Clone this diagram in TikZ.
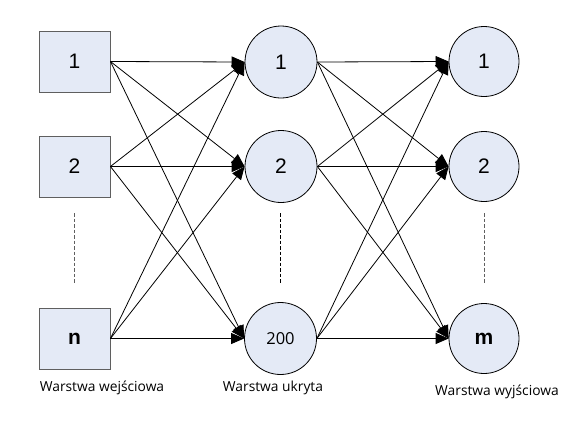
\documentclass[tikz,border=0pt]{standalone}
\usepackage{fontspec}
\setmainfont{Open Sans}
\newfontfamily\arialfont{Liberation Sans}
\usetikzlibrary{arrows.meta}
\definecolor{cellfill}{RGB}{228,234,246}
\definecolor{boxline}{RGB}{95,95,95}
\tikzset{
  inbox/.style={draw=boxline, fill=cellfill, line width=0.9pt,
    minimum width=71pt, minimum height=61pt, inner sep=0pt,
    font=\arialfont\fontsize{21}{24}\selectfont},
  neuron/.style={circle, draw, fill=cellfill, line width=0.8pt,
    minimum size=72pt, inner sep=0pt,
    font=\arialfont\fontsize{21}{24}\selectfont},
  layername/.style={font=\fontsize{13.8}{16}\selectfont},
  gap/.style={dash pattern=on 3.5pt off 2pt, line width=0.7pt},
}
\begin{document}
\begin{tikzpicture}[x=1pt,y=-1pt]
      \useasboundingbox (0,0) rectangle (567,424);
      \draw
        (74.5,61.5) node[inbox] (i1){1}
        (74.5,166.5) node[inbox] (i2){2}
        (74.5,338.5) node[inbox] (in){\bfseries n}
        (281,62) node[neuron] (h1){1}
        (281,166.5) node[neuron] (h2){2}
        (280.5,338.5) node[neuron, font=\fontsize{16.5}{18}\selectfont] (h200){200}
        (484,61.5) node[neuron, minimum size=70pt] (o1){1}
        (484,166.5) node[neuron, minimum size=70pt] (o2){2}
        (484,338.5) node[neuron, minimum size=70pt] (om){\bfseries m};
      \draw[gap, boxline] (74.5,213) -- (74.5,284);
      \draw[gap] (280,213) -- (280,284);
      \draw[gap, boxline] (484,213) -- (484,284);
      \node[layername] (lin) at (102,388) {Warstwa wejściowa};
      \node[layername] (lhid) at (273,388) {Warstwa ukryta};
      \node[layername] (lout) at (497,392) {Warstwa wyjściowa};
      \begin{scope}[-{Triangle[length=13pt,width=11pt]}, line width=0.8pt]
        \draw (i1.east) to (h1.west);
        \draw (i1.east) to (h2.west);
        \draw (i1.east) to (h200.west);
        \draw (i2.east) to (h1.west);
        \draw (i2.east) to (h2.west);
        \draw (i2.east) to (h200.west);
        \draw (in.east) to (h1.west);
        \draw (in.east) to (h2.west);
        \draw (in.east) to (h200.west);
        \draw (h1.east) to (o1.west);
        \draw (h1.east) to (o2.west);
        \draw (h1.east) to (om.west);
        \draw (h2.east) to (o1.west);
        \draw (h2.east) to (o2.west);
        \draw (h2.east) to (om.west);
        \draw (h200.east) to (o1.west);
        \draw (h200.east) to (o2.west);
        \draw (h200.east) to (om.west);
      \end{scope}
    \end{tikzpicture}
\end{document}
